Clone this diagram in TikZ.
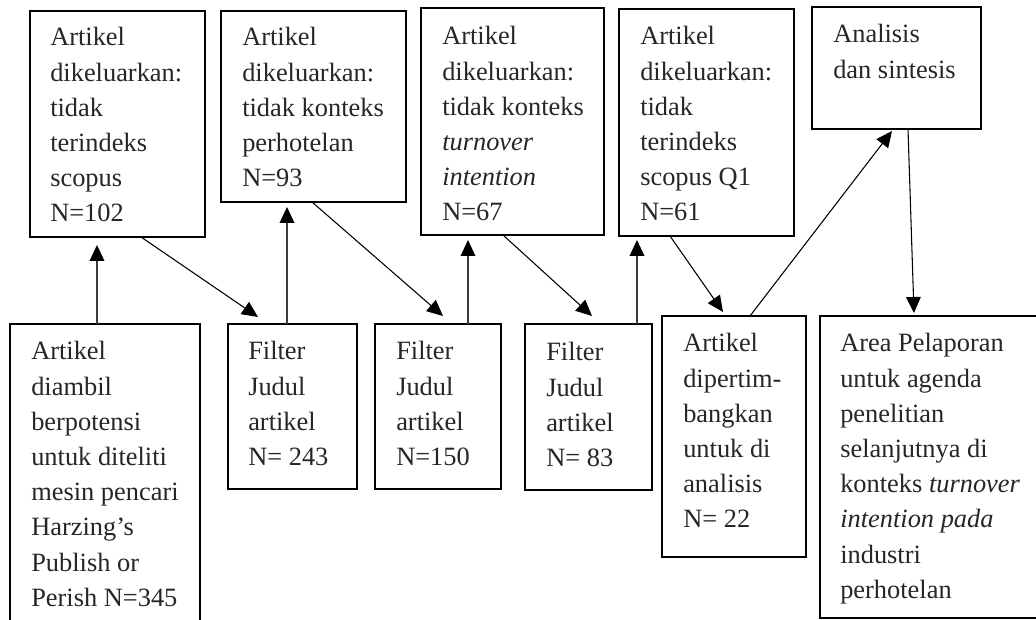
\documentclass[tikz,border=0pt]{standalone}
\usepackage{fontspec}
\setmainfont{Liberation Serif}
\usetikzlibrary{arrows.meta,calc,fit}
\definecolor{ink}{HTML}{262626}
\definecolor{lineink}{HTML}{3A3A3A}
\newcommand{\boxlines}[1]{\begin{tabular}[t]{@{}l@{}}#1\end{tabular}}
\begin{document}
\begin{tikzpicture}[x=0.75pt,y=-0.75pt,
  box/.style={draw=black,line width=1.4pt,inner sep=0pt,outer sep=0pt},
  txt/.style={anchor=base west,inner sep=0pt,text=ink,font=\fontsize{19.8}{26.4}\selectfont},
  arr/.style={line width=0.8pt,-{Triangle[width=11pt,length=12pt,color=black]}},
  uparr/.style={arr,line width=1.1pt,draw=lineink}]
\useasboundingbox (0,0) rectangle (1036,620);
\clip (0,0) rectangle (1036,620);
% top row
\node[box,fit={(30,11)(205,237)}] (A) {};
\node[box,fit={(221,11)(406,202)}] (B) {};
\node[box,fit={(421,8)(604,235)}] (C) {};
\node[box,fit={(619,9)(794,236)}] (D) {};
\node[box,fit={(812,7)(981,129)}] (E) {};
% bottom row
\node[box,fit={(10,324)(200,630)}] (F) {};
\node[box,fit={(228,324)(357,489)}] (G) {};
\node[box,fit={(375,324)(501,489)}] (H) {};
\node[box,fit={(525,324)(652,490)}] (I) {};
\node[box,fit={(662,316)(806,557)}] (J) {};
\node[box,fit={(820,316)(1050,618)}] (K) {};
% texts
\node[txt] (At) at ($(A.north west)+(20,35)$) {\boxlines{Artikel\\dikeluarkan:\\tidak\\terindeks\\scopus\\N=102}};
\node[txt] (Bt) at ($(B.north west)+(21,35)$) {\boxlines{Artikel\\dikeluarkan:\\tidak konteks\\perhotelan\\N=93}};
\node[txt] (Ct) at ($(C.north west)+(21,37)$) {\boxlines{Artikel\\dikeluarkan:\\tidak konteks\\\textit{turnover}\\\textit{intention}\\N=67}};
\node[txt] (Dt) at ($(D.north west)+(21,36)$) {\boxlines{Artikel\\dikeluarkan:\\tidak\\terindeks\\scopus Q1\\N=61}};
\node[txt] (Et) at ($(E.north west)+(21,36)$) {\boxlines{Analisis\\dan sintesis}};
\node[txt] (Ft) at ($(F.north west)+(21,36)$) {\boxlines{Artikel\\diambil\\berpotensi\\untuk diteliti\\mesin pencari\\Harzing’s\\Publish or\\Perish N=345}};
\node[txt] (Gt) at ($(G.north west)+(20,36)$) {\boxlines{Filter\\Judul\\artikel\\N= 243}};
\node[txt] (Ht) at ($(H.north west)+(21,36)$) {\boxlines{Filter\\Judul\\artikel\\N=150}};
\node[txt] (It) at ($(I.north west)+(21,37)$) {\boxlines{Filter\\Judul\\artikel\\N= 83}};
\node[txt] (Jt) at ($(J.north west)+(21,36)$) {\boxlines{Artikel\\dipertim-\\bangkan\\untuk di\\analisis\\N= 22}};
\node[txt] (Kt) at ($(K.north west)+(20,36)$) {\boxlines{Area Pelaporan\\untuk agenda\\penelitian\\selanjutnya di\\konteks \textit{turnover}\\\textit{intention pada}\\industri\\perhotelan}};
% connectors
\draw[uparr] ($(F.north west)+(87,0)$) -- ($(A.south west)+(67,8)$);
\draw[arr] ($(A.south west)+(111,0)$) -- ($(G.north west)+(30,-7)$);
\draw[uparr] ($(G.north west)+(59,0)$) -- ($(B.south west)+(66,5)$);
\draw[arr] ($(B.south west)+(91,0)$) -- ($(H.north west)+(68,-8)$);
\draw[uparr] ($(H.north west)+(93,0)$) -- ($(C.south west)+(47,5)$);
\draw[arr] ($(C.south west)+(82,0)$) -- ($(I.north west)+(67,-8)$);
\draw[uparr] ($(I.north west)+(112,0)$) -- ($(D.south west)+(18,4)$);
\draw[arr] ($(D.south west)+(51,0)$) -- ($(J.north west)+(61,-4)$);
\draw[arr] ($(J.north west)+(88,0)$) -- ($(E.south west)+(80,2)$);
\draw[arr] ($(E.south west)+(96,0)$) -- ($(K.north west)+(94,-3)$);
\end{tikzpicture}
\end{document}
